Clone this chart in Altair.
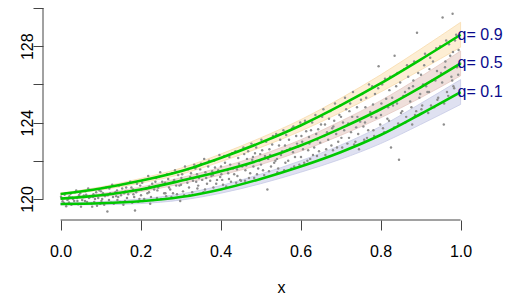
import altair as alt
import pandas as pd

# fitted quantile curves
xs = [0.0, 0.1, 0.2, 0.3, 0.4, 0.5, 0.6, 0.7, 0.8, 0.9, 1.0]
q10 = [119.74, 119.78, 119.88, 120.10, 120.50, 121.05, 121.70, 122.45, 123.35, 124.45, 125.60]
q50 = [120.02, 120.20, 120.50, 120.95, 121.45, 122.05, 122.80, 123.70, 124.70, 125.85, 127.10]
q90 = [120.26, 120.55, 120.95, 121.45, 122.15, 122.95, 123.85, 124.90, 126.05, 127.30, 128.60]
halfwidth = [0.05, 0.08, 0.12, 0.16, 0.20, 0.25, 0.30, 0.37, 0.45, 0.55, 0.65]
qnames = ["0.1", "0.5", "0.9"]
qlabels = ["q= 0.1", "q= 0.5", "q= 0.9"]

# scattered observations (approximate reading)
points_a = [
    (0.003,120.05),(0.008,119.8),(0.012,120.3),(0.017,119.95),
    (0.022,120.15),(0.027,119.7),(0.031,120.0),(0.036,120.35),
    (0.042,119.9),(0.046,120.2),(0.051,119.6),(0.057,120.1),
    (0.062,120.4),(0.066,119.85),(0.071,120.05),(0.077,119.75),
    (0.082,120.25),(0.086,120.0),(0.091,119.65),(0.097,120.45),
    (0.102,119.9),(0.106,120.3),(0.111,120.15),(0.117,119.35),
    (0.122,120.55),(0.126,119.8),(0.131,120.1),(0.137,120.35),
    (0.142,119.95),(0.146,120.7),(0.151,120.2),(0.157,119.7),
    (0.162,120.4),(0.166,120.05),(0.171,119.85),(0.177,120.6),
    (0.182,120.25),(0.186,119.4),(0.191,120.8),(0.197,120.0),
    (0.202,120.5),(0.206,119.9),(0.211,121.0),(0.217,120.3),
    (0.222,120.65),(0.226,120.1),(0.231,119.95),(0.237,120.9),
    (0.242,120.45),(0.246,121.15),(0.251,120.0),(0.257,120.75),
    (0.262,120.3),(0.266,121.3),(0.271,120.6),(0.277,120.1),
    (0.282,120.9),(0.286,121.5),(0.291,120.25),(0.297,120.7),
    (0.302,121.1),(0.306,120.4),(0.311,121.7),(0.317,120.85),
    (0.322,120.2),(0.326,121.35),(0.331,120.95),(0.337,121.6),
    (0.342,120.55),(0.346,121.1),(0.351,121.85),(0.357,120.35),
    (0.362,121.4),(0.366,120.8),(0.371,122.0),(0.377,121.2),
    (0.382,120.6),(0.386,121.65),(0.391,121.0),(0.397,122.3),
    (0.402,121.3),(0.406,120.75),(0.411,121.9),(0.417,121.5),
    (0.422,122.2),(0.426,120.9),(0.431,121.6),(0.437,122.5),
    (0.442,121.2),(0.446,121.85),(0.451,120.95),(0.457,122.7),
    (0.462,121.5),(0.466,122.1),(0.471,121.1),(0.477,122.9),
    (0.482,121.7),(0.486,122.4),(0.491,121.3),(0.497,122.0),
    (0.502,123.1),(0.506,121.5),(0.511,122.25),(0.517,120.5),
    (0.522,122.6),(0.526,121.7),(0.531,123.3),(0.537,122.0),
    (0.542,121.4),(0.546,122.8),(0.551,122.3),(0.557,123.6),
    (0.562,121.9),(0.566,122.55),(0.571,123.1),(0.577,121.6),
    (0.582,123.8),(0.586,122.2),(0.591,122.9),(0.597,121.8),
    (0.602,123.3),(0.606,122.6),(0.611,124.1),(0.617,122.0),
    (0.622,122.9),(0.626,123.6),(0.631,122.3),(0.637,124.4),
    (0.642,123.1),(0.646,122.5),(0.651,123.9),(0.657,124.7),
    (0.662,122.3),(0.666,123.5),(0.671,124.2),(0.677,122.8),
    (0.682,123.8),(0.686,125.0),(0.691,122.7),(0.697,124.4),
    (0.702,123.2),(0.706,124.0),(0.711,125.3),(0.717,122.9),
    (0.722,124.6),(0.726,123.5),(0.731,125.6),(0.737,123.0),
    (0.742,124.3),(0.746,122.6),(0.751,125.2),(0.757,123.8),
    (0.762,124.8),(0.766,123.2),(0.771,126.0),(0.777,124.3),
    (0.782,123.6),(0.786,125.5),(0.791,124.6),(0.795,126.95),
    (0.802,125.0),(0.806,123.7),(0.811,126.3),(0.817,124.2),
    (0.822,125.7),(0.826,122.7),(0.831,124.9),(0.835,127.5),
    (0.842,126.6),(0.846,122.05),(0.851,124.5),(0.857,125.4),
    (0.862,124.0),(0.866,127.0),(0.871,125.8),(0.877,124.8),
    (0.882,126.2),(0.886,124.4),(0.891,128.7),(0.897,125.3),
    (0.902,124.7),(0.906,126.0),(0.911,127.6),(0.917,125.6),
    (0.922,126.8),(0.926,124.9),(0.931,127.2),(0.937,126.2),
    (0.942,125.2),(0.946,127.9),(0.951,126.6),(0.955,129.5),
    (0.958,123.9),(0.962,127.2),(0.966,125.6),(0.971,128.1),
    (0.977,126.4),(0.982,125.9),(0.986,128.3),(0.991,126.9),
    (0.980,129.7),(0.995,127.8),
]
points_b = [
    (0.001,120.12),(0.005,119.88),(0.010,120.22),(0.014,119.62),(0.019,120.0),
    (0.021,119.82),(0.025,120.27),(0.029,120.08),(0.034,119.9),(0.039,120.45),
    (0.041,120.05),(0.044,119.72),(0.049,120.3),(0.054,119.95),(0.058,120.18),
    (0.061,119.9),(0.064,120.22),(0.069,120.55),(0.074,120.1),(0.079,119.6),
    (0.081,120.1),(0.084,119.85),(0.089,120.35),(0.094,120.05),(0.099,119.75),
    (0.101,120.4),(0.104,120.0),(0.109,119.7),(0.114,120.6),(0.118,120.2),
    (0.121,119.95),(0.124,120.3),(0.129,120.75),(0.133,119.75),(0.139,120.15),
    (0.141,120.45),(0.144,120.1),(0.149,119.85),(0.154,120.55),(0.159,120.3),
    (0.161,119.9),(0.164,120.6),(0.169,120.25),(0.174,120.9),(0.179,119.8),
    (0.181,120.5),(0.184,120.1),(0.189,120.35),(0.194,119.85),(0.199,120.7),
    (0.201,120.2),(0.204,120.85),(0.209,120.0),(0.214,120.55),(0.219,121.2),
    (0.221,120.35),(0.224,119.75),(0.229,120.8),(0.234,120.5),(0.239,121.1),
    (0.241,120.05),(0.244,120.6),(0.249,121.4),(0.254,120.9),(0.259,120.3),
    (0.261,120.85),(0.264,120.15),(0.269,121.05),(0.274,120.5),(0.279,121.35),
    (0.281,120.3),(0.284,121.0),(0.289,120.7),(0.294,121.25),(0.299,119.9),
    (0.301,120.75),(0.304,121.3),(0.309,120.2),(0.314,121.0),(0.319,121.55),
    (0.321,120.6),(0.324,121.15),(0.329,120.35),(0.334,121.8),(0.339,120.9),
    (0.341,121.3),(0.344,120.7),(0.349,121.55),(0.354,121.0),(0.359,122.1),
    (0.361,120.5),(0.364,121.1),(0.369,121.7),(0.374,120.95),(0.379,121.45),
    (0.381,121.25),(0.384,122.0),(0.389,120.8),(0.394,121.5),(0.399,121.15),
    (0.401,121.7),(0.404,121.0),(0.409,122.25),(0.414,120.65),(0.419,121.35),
    (0.421,121.05),(0.424,121.8),(0.429,122.4),(0.434,121.3),(0.439,120.85),
    (0.441,121.55),(0.444,122.15),(0.449,121.0),(0.454,121.7),(0.459,122.35),
    (0.461,120.95),(0.464,121.75),(0.469,122.5),(0.474,121.35),(0.479,122.05),
    (0.481,122.2),(0.484,121.1),(0.489,122.7),(0.494,121.6),(0.499,122.35),
    (0.501,121.8),(0.504,122.55),(0.509,121.25),(0.514,123.0),(0.519,122.1),
    (0.521,121.45),(0.524,122.3),(0.529,122.85),(0.534,121.9),(0.539,123.4),
    (0.541,122.1),(0.544,121.6),(0.549,123.1),(0.554,122.5),(0.559,121.5),
    (0.561,122.8),(0.564,123.35),(0.569,122.0),(0.574,122.65),(0.579,123.7),
    (0.581,122.45),(0.584,121.7),(0.589,123.3),(0.594,122.75),(0.599,124.0),
    (0.601,122.2),(0.604,123.0),(0.609,121.9),(0.614,123.55),(0.619,122.55),
    (0.621,123.25),(0.624,122.1),(0.629,124.0),(0.634,122.7),(0.639,123.4),
    (0.641,122.25),(0.644,123.65),(0.649,122.95),(0.654,124.3),(0.659,123.3),
    (0.661,123.9),(0.664,122.6),(0.669,123.1),(0.674,124.6),(0.679,123.7),
    (0.681,122.55),(0.684,124.1),(0.689,123.4),(0.694,123.0),(0.699,124.9),
    (0.701,124.3),(0.704,122.7),(0.709,123.6),(0.714,124.7),(0.719,123.95),
    (0.721,123.2),(0.724,125.0),(0.729,124.3),(0.734,122.85),(0.739,123.75),
    (0.741,124.8),(0.744,123.4),(0.749,124.05),(0.754,125.5),(0.759,123.1),
    (0.761,124.0),(0.764,125.3),(0.769,123.6),(0.774,124.55),(0.779,125.9),
    (0.781,124.95),(0.784,123.3),(0.789,124.25),(0.794,125.8),(0.799,123.9),
    (0.801,124.4),(0.804,126.0),(0.809,123.5),(0.814,125.25),(0.819,124.8),
    (0.821,124.1),(0.824,126.4),(0.829,125.3),(0.834,123.75),(0.839,125.9),
    (0.841,125.0),(0.844,123.95),(0.849,126.1),(0.854,124.6),(0.859,126.8),
    (0.861,125.6),(0.864,124.3),(0.869,126.4),(0.874,125.1),(0.879,123.9),
    (0.881,125.9),(0.884,127.2),(0.889,124.6),(0.894,126.6),(0.899,125.5),
    (0.901,126.5),(0.904,124.9),(0.909,127.0),(0.914,125.9),(0.919,124.5),
    (0.921,125.6),(0.924,127.4),(0.929,126.2),(0.934,124.8),(0.939,127.9),
    (0.941,126.7),(0.944,125.3),(0.949,128.0),(0.954,126.1),(0.959,125.0),
    (0.961,126.9),(0.964,128.3),(0.969,125.4),(0.974,127.5),(0.979,126.2),
    (0.981,127.7),(0.984,125.8),(0.989,128.6),(0.994,126.5),(0.999,127.1),
]

band_fill = ["#dfe1f1", "#efdfdb", "#fdeed4"]
band_edge = ["#c6cae6", "#e4c8c2", "#f8dcae"]

rows = []
for qn, curve in zip(qnames, [q10, q50, q90]):
    for x, yv, h in zip(xs, curve, halfwidth):
        rows.append({"x": x, "y": yv, "lo": yv - h, "hi": yv + h, "q": qn})
curves = pd.DataFrame(rows)
allpts = points_a + points_b
pts = pd.DataFrame({"x": [p[0] for p in allpts], "y": [p[1] for p in allpts]})
labels = pd.DataFrame({"x": [xs[-1]] * 3, "y": [q10[-1], q50[-1], q90[-1]], "label": qlabels})
xline = pd.DataFrame({"x": [0.0], "x2": [1.0]})
yline = pd.DataFrame({"y": [120.0], "y2": [130.0]})

FONT = "Liberation Sans"
AX = "#444444"
xscale = alt.Scale(domain=[-0.044, 1.1335], nice=False, zero=False)
yscale = alt.Scale(domain=[118.9, 130.0], nice=False, zero=False)
xaxis = alt.Axis(values=[0, 0.2, 0.4, 0.6, 0.8, 1.0], format=".1f", domain=False, grid=False,
                 tickSize=10, tickColor=AX, labelPadding=13, labelFontSize=16, labelFont=FONT,
                 labelColor="black", title="x", titleFont=FONT, titleFontSize=16,
                 titleFontWeight="normal", titleColor="black", titleY=72,
                 titleBaseline="alphabetic", titleX=238)
yaxis = alt.Axis(values=[120, 122, 124, 126, 128, 130], domain=False, grid=False,
                 labelExpr="datum.value % 4 == 0 ? datum.label : ''",
                 tickSize=10, tickColor=AX, labelAngle=270, labelAlign="center",
                 labelBaseline="alphabetic", labelPadding=1, labelFontSize=16,
                 labelFont=FONT, labelColor="black", title=None)

X = alt.X("x:Q", scale=xscale, axis=xaxis)
Y = alt.Y("y:Q", scale=yscale, axis=yaxis)

bands = alt.Chart(curves).mark_area(interpolate="monotone", strokeWidth=0.8).encode(
    x=X,
    y=alt.Y("lo:Q", scale=yscale, axis=yaxis),
    y2="hi:Q",
    fill=alt.Fill("q:N", scale=alt.Scale(domain=qnames, range=band_fill), legend=None),
    stroke=alt.Stroke("q:N", scale=alt.Scale(domain=qnames, range=band_edge), legend=None),
)
dots = alt.Chart(pts).mark_circle(size=6, color="#8e8e8e", opacity=1).encode(x=X, y=Y)
lines = alt.Chart(curves).mark_line(color="#00c800", strokeWidth=2.6, interpolate="monotone").encode(
    x=X, y=Y, detail="q:N")
texts = alt.Chart(labels).mark_text(align="left", baseline="middle", dx=-3, fontSize=16,
                                    font=FONT, color="#0a0a8c").encode(x=X, y=Y, text="label:N")
xrule = alt.Chart(xline).mark_rule(color=AX, strokeWidth=1).encode(
    x=X, x2="x2:Q", y=alt.value(212))
yrule = alt.Chart(yline).mark_rule(color=AX, strokeWidth=1).encode(
    y=Y, y2="y2:Q", x=alt.value(0))

chart = alt.layer(bands, dots, lines, texts, xrule, yrule).properties(
    width=471, height=212,
    autosize=alt.AutoSizeParams(type="none"),
    padding={"left": 35, "top": 0, "right": 0, "bottom": 78},
).configure_view(stroke=None)

chart.save("out.html", embed_options={"renderer": "svg", "actions": False})
